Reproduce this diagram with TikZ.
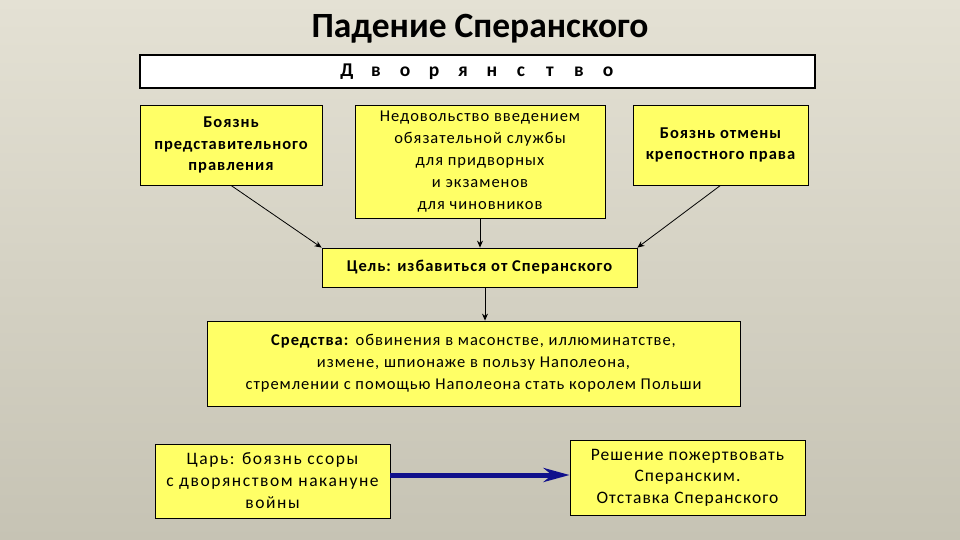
\documentclass[tikz,border=0pt]{standalone}
\usepackage{fontspec}
\setmainfont{Carlito}
\newfontfamily\boxfont[LetterSpace=6]{Carlito}
\newfontfamily\tsarfont[LetterSpace=9]{Carlito}
\newfontfamily\decfont[LetterSpace=6]{Carlito}
\usetikzlibrary{arrows.meta,calc}
\definecolor{bgtop}{HTML}{E4E1D4}
\definecolor{bgbot}{HTML}{C6C3B4}
\definecolor{boxyellow}{HTML}{FFFF66}
\definecolor{arrowblue}{HTML}{10108C}
\newcommand{\lsp}[1]{\makebox[29pt]{#1}}
\begin{document}
\begin{tikzpicture}[x=1pt,y=-1pt,
  ybox/.style={draw=black, line width=0.8pt, fill=boxyellow, inner sep=2pt, align=center,
    font=\boxfont\fontsize{16.5}{21.8}\selectfont},
  thinarrow/.style={draw=black, line width=0.8pt, -{Stealth[length=7pt,width=6pt]}},
  bluearrow/.style={draw=arrowblue, line width=5pt, -{Stealth[length=26pt,width=14pt]}}]
\shade[top color=bgtop, bottom color=bgbot] (0,0) rectangle (960,540);
\useasboundingbox (0,0) rectangle (960,540);

\node (title) at (480,29) {\fontsize{35.5}{40}\selectfont\bfseries Падение Сперанского};

\node[draw=black, line width=2pt, fill=white, minimum width=675pt, minimum height=33pt, inner sep=0pt]
  (nob) at (477.5,71.5) {\fontsize{19.5}{22}\selectfont\bfseries
  \lsp{Д}\lsp{в}\lsp{о}\lsp{р}\lsp{я}\lsp{н}\lsp{с}\lsp{т}\lsp{в}\lsp{о}};

\node[ybox, minimum width=182pt, minimum height=80pt] (b1) at (231,145)
  {\bfseries Боязнь\\\bfseries представительного\\\bfseries правления};
\node[ybox, minimum width=250pt, minimum height=113pt] (b2) at (480,161.5)
  {Недовольство введением\\обязательной службы\\для придворных\\и экзаменов\\для чиновников};
\node[ybox, minimum width=175pt, minimum height=80pt] (b3) at (720.5,145)
  {\bfseries Боязнь отмены\\\bfseries крепостного права};

\node[ybox, minimum width=315pt, minimum height=39pt] (goal) at (479.5,267.5)
  {\bfseries Цель: избавиться от Сперанского};

\node[ybox, minimum width=533pt, minimum height=85pt] (means) at (473.5,363.5)
  {\textbf{Средства:} обвинения в масонстве, иллюминатстве,\\измене, шпионаже в пользу Наполеона,\\стремлении с помощью Наполеона стать королем Польши};

\node[ybox, minimum width=235pt, minimum height=74pt, font=\tsarfont\fontsize{17.5}{22}\selectfont] (tsar) at (272.5,481)
  {Царь: боязнь ссоры\\с дворянством накануне\\войны};
\node[ybox, minimum width=235pt, minimum height=75pt, font=\decfont\fontsize{17.5}{21.5}\selectfont] (dec) at (687.5,477.5)
  {Решение пожертвовать\\Сперанским.\\Отставка Сперанского};

\draw[thinarrow] (b1.south) -- (goal.north west);
\draw[thinarrow] (b2.south) -- (b2.south |- goal.north);
\draw[thinarrow] (b3.south) -- (goal.north east);
\draw[thinarrow] ($(goal.south)+(5.5,0)$) -- ($(goal.south |- means.north)+(5.5,0)$);
\draw[bluearrow] (tsar.east |- 0,475) -- (dec.west |- 0,475);
\end{tikzpicture}
\end{document}
